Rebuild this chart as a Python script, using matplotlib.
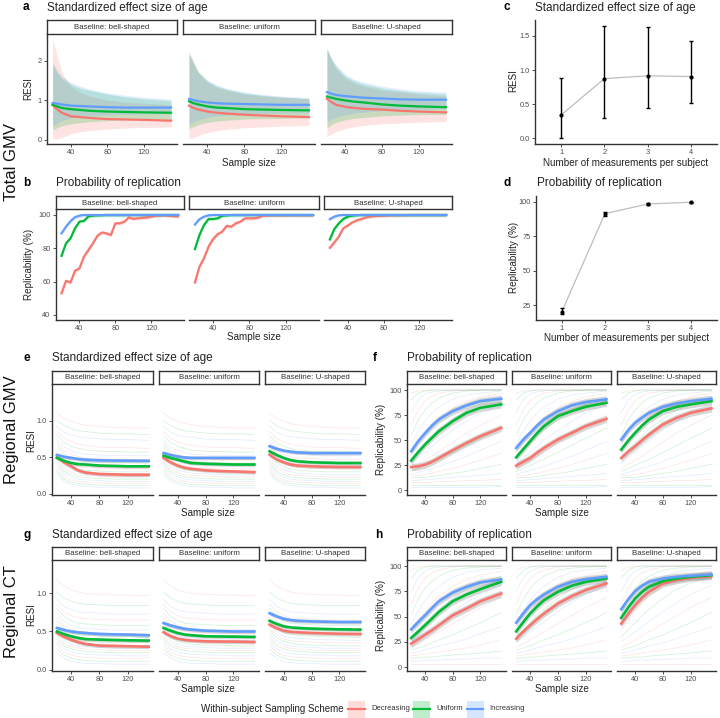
import matplotlib
matplotlib.use("Agg")
import matplotlib.pyplot as plt
from matplotlib.patches import Rectangle
from matplotlib.lines import Line2D

plt.rcParams['font.family'] = ['Liberation Sans', 'DejaVu Sans']

# ---------------- data ----------------
schemes = ['Decreasing', 'Uniform', 'Increasing']
colors = ['#F8766D', '#00BA38', '#619CFF']
baselines = ['Baseline: bell-shaped', 'Baseline: uniform', 'Baseline: U-shaped']

# panel a: Total GMV RESI (mean and 95% band) per baseline, order Dec/Uni/Inc
a_n = [20, 25, 30, 40, 50, 60, 80, 100, 120, 150]
a_mean_bell = [[0.88, 0.77, 0.68, 0.59, 0.57, 0.55, 0.52, 0.51, 0.50, 0.48],
               [0.88, 0.84, 0.80, 0.77, 0.75, 0.73, 0.71, 0.70, 0.69, 0.68],
               [0.93, 0.91, 0.89, 0.86, 0.85, 0.84, 0.82, 0.81, 0.81, 0.81]]
a_up_bell = [[2.55, 2.10, 1.70, 1.35, 1.20, 1.10, 1.00, 0.95, 0.92, 0.88],
             [1.90, 1.70, 1.55, 1.40, 1.30, 1.25, 1.15, 1.08, 1.03, 0.98],
             [1.95, 1.75, 1.60, 1.45, 1.35, 1.28, 1.18, 1.12, 1.07, 1.02]]
a_lo_bell = [[0.02, 0.02, 0.05, 0.15, 0.20, 0.23, 0.27, 0.29, 0.31, 0.32],
             [0.25, 0.30, 0.35, 0.40, 0.43, 0.45, 0.48, 0.50, 0.51, 0.52],
             [0.35, 0.42, 0.48, 0.55, 0.58, 0.60, 0.63, 0.64, 0.65, 0.66]]
a_mean_unif = [[0.86, 0.80, 0.76, 0.71, 0.68, 0.66, 0.63, 0.61, 0.59, 0.57],
               [0.97, 0.92, 0.89, 0.84, 0.81, 0.80, 0.77, 0.76, 0.75, 0.74],
               [1.03, 1.00, 0.97, 0.94, 0.92, 0.91, 0.90, 0.89, 0.88, 0.88]]
a_up_unif = [[2.23, 1.95, 1.70, 1.45, 1.32, 1.25, 1.15, 1.10, 1.07, 1.03],
             [2.20, 1.95, 1.72, 1.48, 1.36, 1.28, 1.18, 1.12, 1.08, 1.04],
             [2.15, 1.90, 1.70, 1.50, 1.38, 1.30, 1.20, 1.14, 1.10, 1.06]]
a_lo_unif = [[0.02, 0.05, 0.10, 0.18, 0.23, 0.26, 0.30, 0.32, 0.34, 0.36],
             [0.28, 0.33, 0.38, 0.44, 0.47, 0.49, 0.52, 0.53, 0.54, 0.55],
             [0.40, 0.45, 0.50, 0.56, 0.60, 0.62, 0.65, 0.66, 0.67, 0.68]]
a_mean_u = [[1.03, 0.95, 0.88, 0.83, 0.80, 0.78, 0.76, 0.73, 0.71, 0.69],
            [1.09, 1.06, 1.03, 0.99, 0.96, 0.94, 0.89, 0.86, 0.84, 0.82],
            [1.20, 1.16, 1.13, 1.10, 1.08, 1.06, 1.04, 1.02, 1.01, 1.01]]
a_up_u = [[2.30, 2.00, 1.78, 1.55, 1.42, 1.35, 1.25, 1.20, 1.15, 1.10],
          [2.30, 2.05, 1.85, 1.60, 1.48, 1.40, 1.30, 1.24, 1.19, 1.15],
          [2.25, 2.05, 1.88, 1.65, 1.52, 1.45, 1.35, 1.28, 1.23, 1.20]]
a_lo_u = [[0.08, 0.15, 0.20, 0.28, 0.33, 0.36, 0.40, 0.42, 0.44, 0.46],
          [0.30, 0.38, 0.44, 0.50, 0.54, 0.56, 0.60, 0.62, 0.63, 0.64],
          [0.45, 0.52, 0.57, 0.63, 0.67, 0.70, 0.73, 0.75, 0.77, 0.78]]

# panel b: Total GMV replicability (%)
b_n = [20, 25, 30, 35, 40, 45, 50, 55, 60, 65, 70, 75, 80, 85, 90, 95, 100,
       105, 110, 115, 120, 125, 130, 135, 140, 145, 150]
b_bell = [[53, 60.5, 59.5, 66.5, 68, 75, 79, 83, 87.5, 89.5, 89, 88, 95, 95, 96, 98.5, 97.7,
           98, 98.3, 98.5, 99, 99.5, 99.7, 99.8, 99.5, 99.3, 99.2],
          [75.5, 83, 86, 92, 96, 96.5, 99.2, 99.6, 99.8, 99.9, 100, 100, 100, 100, 100, 100, 100,
           100, 100, 100, 100, 100, 100, 100, 100, 100, 100],
          [89, 93, 96.3, 98.7, 99.6, 100, 100, 100, 100, 100, 100, 100, 100, 100, 100, 100, 100,
           100, 100, 100, 100, 100, 100, 100, 100, 100, 100]]
b_unif = [[59.5, 69, 74, 81, 85.5, 88.5, 90, 93.5, 93, 95, 96, 98, 98, 98, 98.5, 99.6, 99.7,
           99.8, 99.8, 99.8, 99.8, 99.8, 99.9, 99.9, 99.9, 99.9, 99.9],
          [79.5, 88, 94, 97.6, 97.6, 98, 99.5, 99.8, 100, 100, 100, 100, 100, 100, 100, 100, 100,
           100, 100, 100, 100, 100, 100, 100, 100, 100, 100],
          [94.3, 97.5, 99, 99.8, 100, 100, 100, 100, 100, 100, 100, 100, 100, 100, 100, 100, 100,
           100, 100, 100, 100, 100, 100, 100, 100, 100, 100]]
b_u = [[80.3, 83.5, 87, 92, 93.6, 95.5, 96.8, 97.5, 98.5, 99, 99.3, 99.5, 99.6, 99.8, 99.8, 99.9, 99.9,
        99.9, 100, 100, 100, 100, 100, 100, 100, 100, 100],
       [85.3, 91.5, 95, 97.6, 99, 99.6, 99.9, 100, 100, 100, 100, 100, 100, 100, 100, 100, 100,
        100, 100, 100, 100, 100, 100, 100, 100, 100, 100],
       [97.5, 99, 99.8, 100, 100, 100, 100, 100, 100, 100, 100, 100, 100, 100, 100, 100, 100,
        100, 100, 100, 100, 100, 100, 100, 100, 100, 100]]
b_se = 1.0

# panels c, d: number of measurements per subject
cd_m = [1, 2, 3, 4]
c_mean = [0.34, 0.875, 0.915, 0.905]
c_lo = [0.0, 0.30, 0.45, 0.52]
c_hi = [0.88, 1.65, 1.63, 1.42]
d_mean = [20.5, 91.5, 98.5, 99.8]
d_lo = [18.5, 90.0, 97.8, 99.4]
d_hi = [23.0, 93.0, 99.1, 100.2]

# panels e-h: regional analyses, smoothed mean curves
r_n = [20, 30, 40, 50, 60, 80, 100, 120, 150]
e_bell = [[0.50, 0.43, 0.375, 0.32, 0.29, 0.27, 0.265, 0.26, 0.26],
          [0.49, 0.45, 0.42, 0.405, 0.40, 0.385, 0.38, 0.375, 0.375],
          [0.53, 0.505, 0.49, 0.475, 0.466, 0.457, 0.454, 0.452, 0.45]]
e_unif = [[0.49, 0.43, 0.385, 0.355, 0.34, 0.32, 0.31, 0.305, 0.295],
          [0.52, 0.49, 0.466, 0.44, 0.42, 0.41, 0.405, 0.40, 0.40],
          [0.556, 0.53, 0.51, 0.495, 0.49, 0.49, 0.49, 0.49, 0.49]]
e_u = [[0.534, 0.47, 0.43, 0.40, 0.385, 0.375, 0.37, 0.366, 0.366],
       [0.58, 0.53, 0.49, 0.46, 0.443, 0.43, 0.425, 0.42, 0.42],
       [0.65, 0.615, 0.59, 0.575, 0.565, 0.556, 0.556, 0.556, 0.556]]
g_bell = [[0.48, 0.43, 0.393, 0.36, 0.336, 0.314, 0.31, 0.306, 0.30],
          [0.50, 0.465, 0.437, 0.415, 0.40, 0.393, 0.388, 0.384, 0.38],
          [0.546, 0.52, 0.50, 0.488, 0.48, 0.467, 0.462, 0.459, 0.45]]
g_unif = [[0.49, 0.44, 0.406, 0.39, 0.38, 0.371, 0.368, 0.367, 0.362],
          [0.546, 0.51, 0.48, 0.46, 0.45, 0.437, 0.434, 0.432, 0.428],
          [0.61, 0.58, 0.555, 0.535, 0.524, 0.51, 0.505, 0.50, 0.50]]
g_u = [[0.59, 0.545, 0.51, 0.495, 0.489, 0.48, 0.475, 0.47, 0.467],
       [0.64, 0.60, 0.568, 0.553, 0.546, 0.537, 0.532, 0.528, 0.524],
       [0.74, 0.70, 0.668, 0.65, 0.64, 0.633, 0.628, 0.624, 0.624]]
f_bell = [[23.3, 24, 25.7, 28.5, 32.3, 40, 47.3, 54, 62.3],
          [29.7, 38, 45.7, 52.5, 59, 69, 77.3, 82.3, 85.7],
          [39, 49, 57, 64.5, 70.7, 79, 84.7, 89, 91.3]]
f_unif = [[24.7, 28.5, 32.3, 37.5, 42.3, 50.7, 57.3, 64, 71.3],
          [33, 41, 49, 57, 64, 74, 79, 83.3, 87.3],
          [42.3, 50.5, 57.3, 64.5, 70.7, 79, 84.7, 88, 90.7]]
f_u = [[32.3, 38.5, 44, 50, 55.7, 65.7, 72.3, 77.3, 81.7],
       [40.7, 49.5, 57.3, 64.5, 70.7, 79, 83.3, 85.7, 89],
       [50.7, 60, 67.3, 72.5, 77.3, 83.3, 86.7, 89, 91.3]]
h_bell = [[23.2, 27.5, 32.1, 36.5, 41.4, 51.3, 58, 65.2, 72.8],
          [28.8, 35, 41.4, 48, 54.6, 65.2, 71.9, 77.2, 84.4],
          [37.4, 44.5, 51.3, 58.5, 65.2, 73.8, 79.5, 83.8, 86.8]]
h_unif = [[28.1, 35, 41.4, 47.5, 53, 62.9, 70.2, 76.2, 82.8],
          [35.4, 44.5, 53, 60, 66.2, 74.5, 80.5, 84.4, 87.7],
          [44, 53, 61.3, 67, 71.9, 79.5, 84.4, 87.1, 89.4]]
h_u = [[43, 52.5, 61.3, 68.5, 74.5, 82.8, 86.1, 88.4, 90],
       [48.7, 59, 67.9, 74.5, 79.5, 85.1, 87.7, 89.4, 91],
       [57.3, 67, 75.2, 80.5, 84.4, 87.7, 89.4, 90.4, 91.7]]
resi_se = 0.025
rep_se = 3.5

# individual regions (thin background curves), estimated
e_thin = [[1.10, 1.03, 0.99, 0.96, 0.94, 0.92, 0.91, 0.90, 0.90],
          [1.00, 0.93, 0.89, 0.86, 0.85, 0.83, 0.82, 0.82, 0.81],
          [0.92, 0.84, 0.80, 0.78, 0.77, 0.75, 0.74, 0.74, 0.73],
          [0.85, 0.76, 0.71, 0.68, 0.66, 0.64, 0.63, 0.63, 0.62],
          [0.80, 0.70, 0.65, 0.62, 0.60, 0.58, 0.58, 0.57, 0.57],
          [0.74, 0.64, 0.59, 0.56, 0.54, 0.53, 0.52, 0.52, 0.52],
          [0.70, 0.59, 0.54, 0.51, 0.49, 0.48, 0.47, 0.47, 0.47],
          [0.66, 0.55, 0.49, 0.46, 0.44, 0.43, 0.42, 0.42, 0.42],
          [0.62, 0.51, 0.45, 0.42, 0.40, 0.39, 0.38, 0.38, 0.38],
          [0.58, 0.47, 0.41, 0.38, 0.36, 0.35, 0.34, 0.34, 0.34],
          [0.55, 0.43, 0.37, 0.34, 0.32, 0.31, 0.30, 0.30, 0.30],
          [0.51, 0.39, 0.33, 0.30, 0.28, 0.27, 0.26, 0.26, 0.26],
          [0.47, 0.35, 0.29, 0.26, 0.25, 0.24, 0.23, 0.23, 0.23],
          [0.43, 0.31, 0.26, 0.23, 0.22, 0.21, 0.20, 0.20, 0.20],
          [0.39, 0.28, 0.23, 0.20, 0.19, 0.18, 0.17, 0.17, 0.17],
          [0.35, 0.24, 0.19, 0.17, 0.16, 0.15, 0.14, 0.14, 0.14],
          [0.31, 0.20, 0.16, 0.14, 0.13, 0.12, 0.11, 0.11, 0.11],
          [0.27, 0.17, 0.13, 0.11, 0.10, 0.09, 0.09, 0.08, 0.08]]
g_thin = [[1.18, 1.10, 1.05, 1.02, 1.00, 0.99, 0.98, 0.98, 0.97],
          [1.02, 0.94, 0.90, 0.87, 0.86, 0.85, 0.84, 0.84, 0.84],
          [0.92, 0.83, 0.79, 0.76, 0.75, 0.74, 0.73, 0.73, 0.73],
          [0.86, 0.76, 0.71, 0.68, 0.67, 0.66, 0.65, 0.65, 0.65],
          [0.80, 0.70, 0.64, 0.61, 0.60, 0.59, 0.58, 0.58, 0.58],
          [0.74, 0.64, 0.58, 0.55, 0.54, 0.53, 0.52, 0.52, 0.52],
          [0.69, 0.58, 0.53, 0.50, 0.49, 0.48, 0.47, 0.47, 0.47],
          [0.64, 0.54, 0.48, 0.46, 0.45, 0.44, 0.43, 0.43, 0.42],
          [0.60, 0.50, 0.44, 0.42, 0.41, 0.40, 0.39, 0.39, 0.38],
          [0.56, 0.46, 0.40, 0.38, 0.37, 0.36, 0.35, 0.35, 0.35],
          [0.52, 0.42, 0.37, 0.35, 0.33, 0.32, 0.32, 0.31, 0.31],
          [0.48, 0.38, 0.33, 0.31, 0.30, 0.29, 0.28, 0.28, 0.28],
          [0.44, 0.34, 0.30, 0.28, 0.27, 0.26, 0.25, 0.25, 0.25],
          [0.40, 0.31, 0.27, 0.25, 0.24, 0.23, 0.22, 0.22, 0.22],
          [0.36, 0.27, 0.23, 0.21, 0.20, 0.19, 0.19, 0.18, 0.18],
          [0.32, 0.23, 0.19, 0.17, 0.16, 0.15, 0.15, 0.15, 0.15],
          [0.27, 0.19, 0.15, 0.13, 0.12, 0.11, 0.11, 0.11, 0.11],
          [0.22, 0.15, 0.11, 0.09, 0.08, 0.08, 0.07, 0.07, 0.07]]
f_thin = [[97, 99, 100, 100, 100, 100, 100, 100, 100],
          [90, 97, 99, 100, 100, 100, 100, 100, 100],
          [78, 90, 96, 98, 99, 100, 100, 100, 100],
          [65, 80, 89, 94, 97, 99, 100, 100, 100],
          [55, 70, 80, 87, 92, 97, 99, 100, 100],
          [46, 59, 69, 77, 83, 91, 95, 97, 99],
          [38, 48, 57, 65, 72, 82, 89, 93, 97],
          [32, 40, 47, 54, 61, 71, 80, 86, 92],
          [27, 33, 38, 44, 50, 60, 69, 77, 86],
          [22, 26, 30, 34, 39, 48, 57, 65, 75],
          [19, 22, 25, 28, 31, 38, 45, 52, 62],
          [16, 18, 20, 22, 24, 29, 34, 40, 49],
          [14, 15, 16, 17, 19, 22, 26, 30, 37],
          [12, 13, 13, 14, 15, 17, 19, 22, 26],
          [10, 10, 11, 11, 12, 13, 14, 15, 17],
          [8, 8, 8, 8, 9, 9, 10, 10, 11],
          [5, 5, 5, 5, 5, 5, 5, 5, 5],
          [3, 3, 3, 3, 3, 3, 3, 3, 4]]
h_thin = [[96, 99, 100, 100, 100, 100, 100, 100, 100],
          [88, 96, 99, 100, 100, 100, 100, 100, 100],
          [75, 88, 95, 98, 99, 100, 100, 100, 100],
          [62, 78, 88, 93, 96, 99, 100, 100, 100],
          [52, 67, 78, 85, 90, 96, 98, 99, 100],
          [43, 56, 66, 74, 80, 89, 94, 96, 98],
          [36, 46, 55, 63, 70, 80, 87, 91, 95],
          [30, 37, 44, 51, 57, 68, 77, 83, 90],
          [25, 30, 35, 40, 45, 55, 64, 72, 81],
          [20, 23, 27, 31, 35, 43, 51, 59, 69],
          [17, 19, 21, 24, 27, 32, 38, 44, 54],
          [14, 15, 17, 19, 21, 24, 28, 33, 40],
          [11, 12, 13, 14, 15, 17, 19, 22, 27],
          [9, 9, 10, 10, 11, 12, 13, 14, 16],
          [6, 6, 7, 7, 7, 8, 8, 9, 9],
          [3, 3, 3, 3, 3, 3, 3, 3, 3]]

# ---------------- figure helpers ----------------
W, H = 720, 718
fig = plt.figure(figsize=(W / 100, H / 100), dpi=100)
AX_COL = '#333333'
TICK_COL = '#4D4D4D'


def add_ax(x0, y0, x1, y1):
    return fig.add_axes([x0 / W, 1 - y1 / H, (x1 - x0) / W, (y1 - y0) / H])


def ftext(x, y, s, **kw):
    fig.text(x / W, 1 - y / H, s, **kw)


def style(ax, show_y=True):
    ax.patch.set_visible(False)
    for s in ['top', 'right']:
        ax.spines[s].set_visible(False)
    ax.spines['bottom'].set_color(AX_COL)
    ax.spines['bottom'].set_linewidth(1.0)
    ax.spines['left'].set_color(AX_COL)
    ax.spines['left'].set_linewidth(1.0)
    ax.tick_params(length=2.2, width=0.6, color=AX_COL, labelsize=5.3,
                   labelcolor=TICK_COL, pad=1.5)
    if not show_y:
        ax.spines['left'].set_visible(False)
        ax.tick_params(axis='y', left=False, labelleft=False)


def strip(x0, y0, x1, y1, label):
    s = add_ax(x0, y0, x1, y1)
    s.set_zorder(5)
    s.set_xticks([])
    s.set_yticks([])
    for sp in s.spines.values():
        sp.set_color(AX_COL)
        sp.set_linewidth(1.0)
    s.text(0.5, 0.45, label, ha='center', va='center', fontsize=5.7,
           color='#333333', transform=s.transAxes)


def title(xl, xt, y, letter, text):
    ftext(xl, y, letter, fontsize=8.5, fontweight='bold', va='center', ha='left')
    ftext(xt, y, text, fontsize=8.5, va='center', ha='left', color='#222222')


def ylab(x, y, s):
    ftext(x, y, s, fontsize=7.1, rotation=90, ha='center', va='center', color='#222222')


def xlab(x, y, s):
    ftext(x, y, s, fontsize=7.1, ha='center', va='center', color='#222222')


XLIM = (13.5, 156.5)

# ---------------- panel a ----------------
a_fx = [(46.7, 177), (183, 315), (321, 452)]
a_sets = [(a_mean_bell, a_up_bell, a_lo_bell), (a_mean_unif, a_up_unif, a_lo_unif),
          (a_mean_u, a_up_u, a_lo_u)]
for i, ((x0, x1), (mn, up, lo)) in enumerate(zip(a_fx, a_sets)):
    ax = add_ax(x0, 34, x1, 144)
    for k in range(3):
        ax.fill_between(a_n, lo[k], up[k], color=colors[k], alpha=0.2, lw=0)
    for k in range(3):
        ax.plot(a_n, mn[k], color=colors[k], lw=1.6)
    ax.set_xlim(*XLIM)
    ax.set_ylim(-0.11, 2.67)
    ax.set_xticks([40, 80, 120])
    ax.set_yticks([0, 1, 2])
    style(ax, i == 0)
    strip(x0, 20, x1, 34, baselines[i])
title(23, 46.7, 7.5, 'a', 'Standardized effect size of age')
ylab(28, 89, 'RESI')
xlab(249, 163, 'Sample size')

# ---------------- panel b ----------------
b_fx = [(55.7, 184), (189, 319), (324, 452)]
for i, ((x0, x1), vals) in enumerate(zip(b_fx, [b_bell, b_unif, b_u])):
    ax = add_ax(x0, 209, x1, 320)
    for k in range(3):
        ax.fill_between(b_n, [v - b_se for v in vals[k]], [v + b_se for v in vals[k]],
                        color=colors[k], alpha=0.2, lw=0)
    for k in range(3):
        ax.plot(b_n, vals[k], color=colors[k], lw=1.6)
    ax.set_xlim(*XLIM)
    ax.set_ylim(37, 103.6)
    ax.set_xticks([40, 80, 120])
    ax.set_yticks([40, 60, 80, 100])
    style(ax, i == 0)
    strip(x0, 196, x1, 209, baselines[i])
title(23, 55.7, 183, 'b', 'Probability of replication')
ylab(29, 264, 'Replicability (%)')
xlab(254, 337, 'Sample size')

# ---------------- panel c ----------------
ax = add_ax(535, 20, 717, 144)
ax.plot(cd_m, c_mean, color='#BDBDBD', lw=0.9, zorder=1)
ax.errorbar(cd_m, c_mean, yerr=[[m - l for m, l in zip(c_mean, c_lo)],
                                [h - m for m, h in zip(c_mean, c_hi)]],
            fmt='none', ecolor='black', elinewidth=1.0, capsize=1.6, capthick=1.0, zorder=2)
ax.scatter(cd_m, c_mean, s=9, color='black', zorder=3, linewidths=0)
ax.set_xlim(0.4, 4.6)
ax.set_ylim(-0.0825, 1.7325)
ax.set_xticks([1, 2, 3, 4])
ax.set_yticks([0, 0.5, 1.0, 1.5])
ax.set_yticklabels(['0.0', '0.5', '1.0', '1.5'])
style(ax)
title(504, 535, 7.5, 'c', 'Standardized effect size of age')
ylab(513, 80, 'RESI')
xlab(626, 163, 'Number of measurements per subject')

# ---------------- panel d ----------------
ax = add_ax(536, 196, 717, 320)
ax.plot(cd_m, d_mean, color='#BDBDBD', lw=0.9, zorder=1)
ax.errorbar(cd_m, d_mean, yerr=[[m - l for m, l in zip(d_mean, d_lo)],
                                [h - m for m, h in zip(d_mean, d_hi)]],
            fmt='none', ecolor='black', elinewidth=1.0, capsize=1.6, capthick=1.0, zorder=2)
ax.scatter(cd_m, d_mean, s=9, color='black', zorder=3, linewidths=0)
ax.set_xlim(0.4, 4.6)
ax.set_ylim(14.4, 104.3)
ax.set_xticks([1, 2, 3, 4])
ax.set_yticks([25, 50, 75, 100])
style(ax)
title(504, 537, 183, 'd', 'Probability of replication')
ylab(514, 257, 'Replicability (%)')
xlab(627, 338, 'Number of measurements per subject')

# ---------------- panels e-h ----------------
left_fx = [(52.3, 153.3), (159, 259), (265, 365)]
right_fx = [(406.7, 505.7), (511.7, 611), (616.7, 716)]


def regional(fxs, y0, y1, sets, thin, ylim, yticks, yticklabels, se):
    for i, ((x0, x1), vals) in enumerate(zip(fxs, sets)):
        ax = add_ax(x0, y0, x1, y1)
        for j, line in enumerate(thin):
            ax.plot(r_n, line, color=colors[j % 3], lw=0.5, alpha=0.2)
        for k in range(3):
            ax.fill_between(r_n, [v - se for v in vals[k]], [v + se for v in vals[k]],
                            color='#8C8C8C', alpha=0.35, lw=0)
        for k in range(3):
            ax.plot(r_n, vals[k], color=colors[k], lw=1.9)
        ax.set_xlim(*XLIM)
        ax.set_ylim(*ylim)
        ax.set_xticks([40, 80, 120])
        ax.set_yticks(yticks)
        ax.set_yticklabels(yticklabels)
        style(ax, i == 0)
        strip(x0, y0 - 13.5, x1, y0, baselines[i])


regional(left_fx, 384, 494.5, [e_bell, e_unif, e_u], e_thin, (-0.01, 1.5),
         [0, 0.5, 1.0], ['0.0', '0.5', '1.0'], resi_se)
title(23, 52.3, 358, 'e', 'Standardized effect size of age')
ylab(31, 440, 'RESI')
xlab(208, 513, 'Sample size')

regional(right_fx, 384, 494.5, [f_bell, f_unif, f_u], f_thin, (-4, 106),
         [0, 25, 50, 75, 100], ['0', '25', '50', '75', '100'], rep_se)
title(373, 406.7, 358, 'f', 'Probability of replication')
ylab(381, 439, 'Replicability (%)')
xlab(562, 513, 'Sample size')

regional(left_fx, 560, 670.5, [g_bell, g_unif, g_u], g_thin, (-0.013, 1.44),
         [0, 0.5, 1.0], ['0.0', '0.5', '1.0'], resi_se)
title(23, 52.3, 535, 'g', 'Standardized effect size of age')
ylab(31, 615, 'RESI')
xlab(208, 689, 'Sample size')

regional(right_fx, 560, 670.5, [h_bell, h_unif, h_u], h_thin, (-3.3, 106),
         [0, 25, 50, 75, 100], ['0', '25', '50', '75', '100'], rep_se)
title(375, 406.7, 535, 'h', 'Probability of replication')
ylab(381, 615, 'Replicability (%)')
xlab(562, 689, 'Sample size')

# row labels
for (y, s) in [(162, 'Total GMV'), (430, 'Regional GMV'), (612, 'Regional CT')]:
    ftext(12, y, s, fontsize=12, rotation=90, ha='center', va='center', color='#111111')

# ---------------- legend ----------------
ly = 709
ftext(200.7, ly, 'Within-subject Sampling Scheme', fontsize=7, ha='left', va='center',
      color='#222222')
key_cx = [356.5, 421.5, 475]
lab_x = [371.7, 436, 489]
for k in range(3):
    kx0 = key_cx[k] - 8.5
    fig.add_artist(Rectangle((kx0 / W, 1 - (ly + 8.5) / H), 17 / W, 17 / H,
                             transform=fig.transFigure, facecolor=colors[k], alpha=0.25,
                             edgecolor='none'))
    fig.add_artist(Line2D([kx0 / W, (kx0 + 17) / W], [1 - ly / H, 1 - ly / H],
                          transform=fig.transFigure, color=colors[k], lw=1.6))
    ftext(lab_x[k], ly, schemes[k], fontsize=5.5, ha='left', va='center', color='#333333')

fig.savefig('out.png', dpi=100)
